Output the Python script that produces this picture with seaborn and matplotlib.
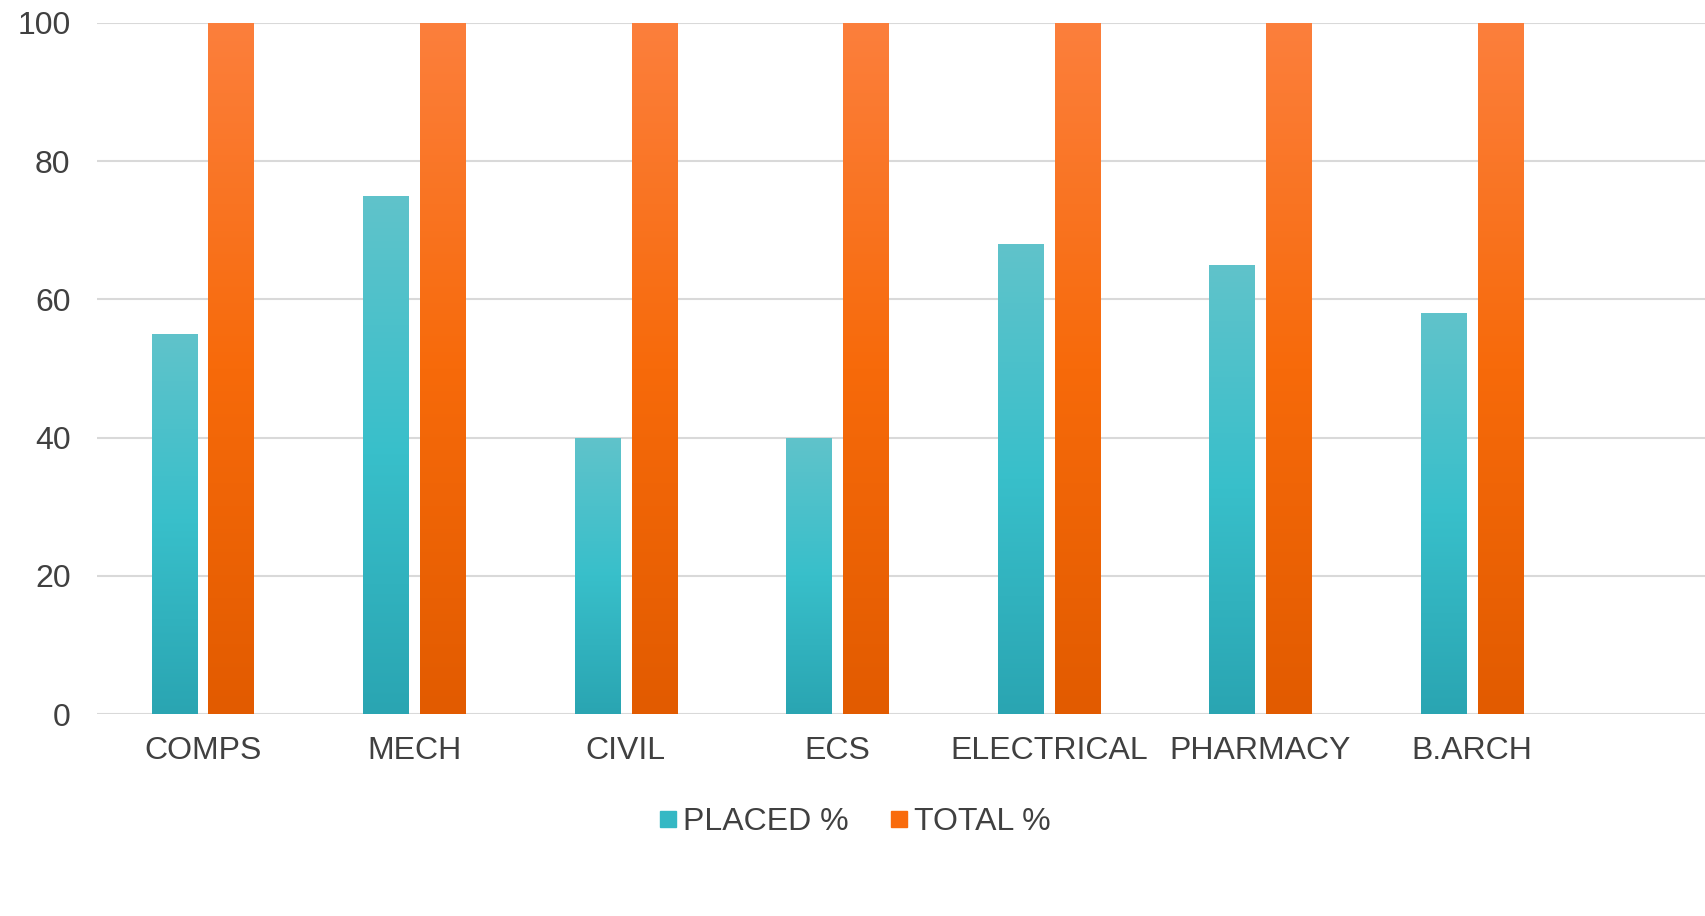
import numpy as np
import pandas as pd
import matplotlib
matplotlib.use('Agg')
import matplotlib.pyplot as plt
import seaborn as sns
from matplotlib.colors import LinearSegmentedColormap
from matplotlib.lines import Line2D

# chart values
departments = ['COMPS', 'MECH', 'CIVIL', 'ECS', 'ELECTRICAL', 'PHARMACY', 'B.ARCH']
placed_pct = [55, 75, 40, 40, 68, 65, 58]
total_pct = [100, 100, 100, 100, 100, 100, 100]
series_names = ['PLACED %', 'TOTAL %']
y_ticks = [0, 20, 40, 60, 80, 100]

df = pd.DataFrame({
    'Department': departments * 2,
    'Series': [series_names[0]] * len(departments) + [series_names[1]] * len(departments),
    'Value': placed_pct + total_pct,
})

teal = '#35b8c4'
orange = '#f96b0c'
text_color = '#404040'

sns.set_style('white')
plt.rcParams['font.family'] = ['Liberation Sans', 'DejaVu Sans']

fig = plt.figure(figsize=(17.06, 9.16), dpi=100)
ax = fig.add_axes([97 / 1706, 1 - 714 / 916, 1 - 97 / 1706, (714 - 23) / 916])

sns.barplot(data=df, x='Department', y='Value', hue='Series', order=departments,
            hue_order=series_names, palette=[teal, orange], width=0.536, gap=0.2,
            legend=False, ax=ax)

# vertical gradients, roughly like the office-style fill
cmaps = {
    0: LinearSegmentedColormap.from_list('t', ['#2aa5b2', '#38bfca', '#60c3cb']),
    1: LinearSegmentedColormap.from_list('o', ['#e25b00', '#f76a0a', '#fc7f3c']),
}
grad = np.linspace(0, 1, 256).reshape(-1, 1)
n = len(departments)
for i, patch in enumerate(list(ax.patches)):
    x0, y0 = patch.get_x(), patch.get_y()
    w, h = patch.get_width(), patch.get_height()
    patch.set_facecolor('none')
    patch.set_edgecolor('none')
    im = ax.imshow(grad, cmap=cmaps[i // n], origin='lower', aspect='auto',
                   extent=[x0, x0 + w, y0, y0 + h], zorder=2)
    im.set_clip_path(patch)

ax.set_xlim(-0.5, (1706 - 203) / 211.5)
ax.set_ylim(0, 100)
ax.set_yticks(y_ticks)
ax.yaxis.grid(True, color='#d9d9d9', linewidth=1.5)
ax.set_axisbelow(True)
for s in ax.spines.values():
    s.set_visible(False)
ax.set_xlabel('')
ax.set_ylabel('')
ax.tick_params(axis='both', length=0, labelsize=23, colors=text_color)
ax.tick_params(axis='x', pad=16)
ax.tick_params(axis='y', pad=19)

handles = [Line2D([], [], marker='s', linestyle='none', markersize=11, color=c)
           for c in [teal, orange]]
fig.legend(handles, series_names, loc='center', bbox_to_anchor=(0.5, 1 - 822 / 916),
           ncol=2, frameon=False, fontsize=23, labelcolor=text_color,
           handletextpad=0.05, columnspacing=1.2, handlelength=0.8)

fig.savefig('out.png', dpi=100)
